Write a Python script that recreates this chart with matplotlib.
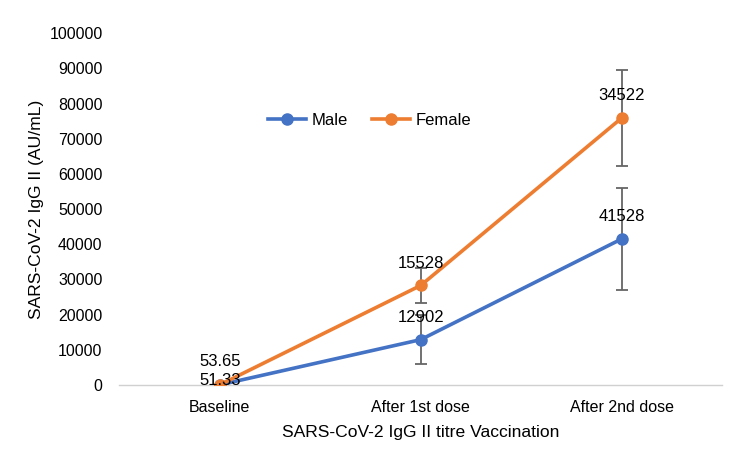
import numpy as np
import matplotlib.pyplot as plt
from matplotlib.lines import Line2D

plt.rcParams['font.family'] = ['Liberation Sans', 'DejaVu Sans']

# data
stages = ['Baseline', 'After 1st dose', 'After 2nd dose']
male = [51.33, 12902, 41528]
female = [53.65, 28300, 75900]
male_err = [0, 7000, 14500]
female_err = [0, 5000, 13600]
male_labels = ['51.33', '12902', '41528']
female_labels = ['53.65', '15528', '34522']

blue = '#4472C4'
orange = '#ED7D31'

fig = plt.figure(figsize=(7.5, 4.57), dpi=100)
ax = fig.add_axes([0.159, 0.1575, 0.804, 0.770])

x = np.arange(len(stages))
ax.errorbar(x, male, yerr=male_err, color=blue, lw=2.6, marker='o', ms=8,
            ecolor='#666666', elinewidth=1.3, capsize=4, capthick=1.3, zorder=3)
ax.errorbar(x, female, yerr=female_err, color=orange, lw=2.6, marker='o', ms=8,
            ecolor='#666666', elinewidth=1.3, capsize=4, capthick=1.3, zorder=3)

# label offsets (points above the marker)
male_off = [3, 16, 16]
female_off = [17, 16, 16]
for i in range(len(stages)):
    ax.annotate(male_labels[i], (x[i], male[i]), xytext=(0, male_off[i]),
                textcoords='offset points', ha='center', va='center', fontsize=12, zorder=4)
    ax.annotate(female_labels[i], (x[i], female[i]), xytext=(0, female_off[i]),
                textcoords='offset points', ha='center', va='center', fontsize=12, zorder=4)

ax.set_xlim(-0.5, 2.5)
ax.set_ylim(0, 100000)
ax.set_yticks(np.arange(0, 100001, 10000))
ax.set_xticks(x)
ax.set_xticklabels(stages)
ax.tick_params(axis='both', length=0, labelsize=11.5)
ax.tick_params(axis='x', pad=11)
ax.tick_params(axis='y', pad=12)

for s in ['top', 'right', 'left']:
    ax.spines[s].set_visible(False)
ax.spines['bottom'].set_color('#d0d0d0')
ax.spines['bottom'].set_linewidth(1)

ax.set_xlabel('SARS-CoV-2 IgG II titre Vaccination', fontsize=12.6, labelpad=7)
ax.set_ylabel('SARS-CoV-2 IgG II (AU/mL)', fontsize=12.6, labelpad=4)

handles = [Line2D([], [], color=blue, lw=2.6, marker='o', ms=8),
           Line2D([], [], color=orange, lw=2.6, marker='o', ms=8)]
ax.legend(handles, ['Male', 'Female'], loc='center', bbox_to_anchor=(0.415, 0.753), ncol=2,
          frameon=False, fontsize=12, handlelength=2.3, columnspacing=1.45, handletextpad=0.3)

fig.savefig('out.png', dpi=100)
